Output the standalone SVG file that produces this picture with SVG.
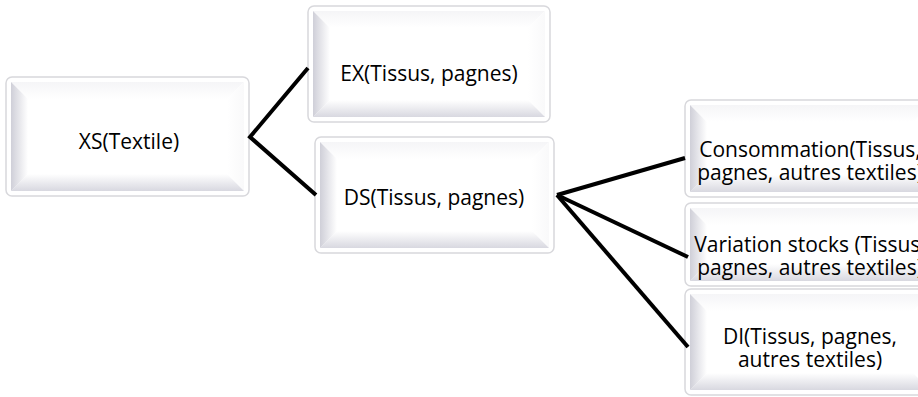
<svg xmlns="http://www.w3.org/2000/svg" width="918" height="397" viewBox="0 0 918 397">
  <defs>
    <linearGradient id="gLeft" x1="0" y1="0" x2="1" y2="0">
      <stop offset="0" stop-color="#cfcfd8"/>
      <stop offset="1" stop-color="#ffffff"/>
    </linearGradient>
    <linearGradient id="gBottom" x1="0" y1="1" x2="0" y2="0">
      <stop offset="0" stop-color="#d8d8e0"/>
      <stop offset="1" stop-color="#ffffff"/>
    </linearGradient>
    <linearGradient id="gTop" x1="0" y1="0" x2="0" y2="1">
      <stop offset="0" stop-color="#f5f5f7"/>
      <stop offset="1" stop-color="#ffffff"/>
    </linearGradient>
    <linearGradient id="gRight" x1="1" y1="0" x2="0" y2="0">
      <stop offset="0" stop-color="#f9f9fa"/>
      <stop offset="1" stop-color="#ffffff"/>
    </linearGradient>
  </defs>
  <style>
    .frame { fill: #ffffff; stroke: #d8d8dc; stroke-width: 1.5; }
    .face { fill: #ffffff; }
    .bl { fill: url(#gLeft); }
    .bb { fill: url(#gBottom); }
    .bt { fill: url(#gTop); }
    .br { fill: url(#gRight); }
    .label { font-family: "Open Sans", "Noto Sans", "Liberation Sans", sans-serif; font-size: 21px; fill: #000000; text-anchor: middle; }
    .link { fill: none; stroke: #000000; stroke-width: 4; stroke-linejoin: miter; stroke-linecap: butt; }
  </style>

  <rect width="918" height="397" fill="#ffffff"/>

  <!-- XS(Textile) -->
  <g id="node-xs">
    <rect class="frame" x="6" y="77" width="243" height="119" rx="6"/>
    <rect class="face" x="11" y="82" width="233" height="109"/>
    <path class="bt" d="M11,82 L244,82 L227,99 L28,99 Z"/>
    <path class="br" d="M244,82 L244,191 L227,174 L227,99 Z"/>
    <path class="bb" d="M11,191 L28,174 L227,174 L244,191 Z"/>
    <path class="bl" d="M11,82 L28,99 L28,174 L11,191 Z"/>
    <text class="label" x="129" y="149">XS(Textile)</text>
  </g>

  <!-- EX(Tissus, pagnes) -->
  <g id="node-ex">
    <rect class="frame" x="308" y="6" width="242" height="116" rx="6"/>
    <rect class="face" x="313" y="11" width="232" height="106"/>
    <path class="bt" d="M313,11 L545,11 L528,28 L330,28 Z"/>
    <path class="br" d="M545,11 L545,117 L528,100 L528,28 Z"/>
    <path class="bb" d="M313,117 L330,100 L528,100 L545,117 Z"/>
    <path class="bl" d="M313,11 L330,28 L330,100 L313,117 Z"/>
    <text class="label" x="429" y="81">EX(Tissus, pagnes)</text>
  </g>

  <!-- DS(Tissus, pagnes) -->
  <g id="node-ds">
    <rect class="frame" x="315" y="137" width="239" height="116" rx="6"/>
    <rect class="face" x="320" y="142" width="229" height="106"/>
    <path class="bt" d="M320,142 L549,142 L532,159 L337,159 Z"/>
    <path class="br" d="M549,142 L549,248 L532,231 L532,159 Z"/>
    <path class="bb" d="M320,248 L337,231 L532,231 L549,248 Z"/>
    <path class="bl" d="M320,142 L337,159 L337,231 L320,248 Z"/>
    <text class="label" x="434" y="205">DS(Tissus, pagnes)</text>
  </g>

  <!-- Consommation -->
  <g id="node-consommation">
    <rect class="frame" x="685" y="100" width="250" height="97" rx="6"/>
    <rect class="face" x="690" y="105" width="240" height="87"/>
    <path class="bt" d="M690,105 L930,105 L913,122 L707,122 Z"/>
    <path class="bb" d="M690,192 L707,175 L913,175 L930,192 Z"/>
    <path class="bl" d="M690,105 L707,122 L707,175 L690,192 Z"/>
    <text class="label" x="810" y="157">Consommation(Tissus,</text>
    <text class="label" x="810" y="180">pagnes, autres textiles)</text>
  </g>

  <!-- Variation stocks -->
  <g id="node-variation">
    <rect class="frame" x="685" y="203" width="250" height="83" rx="6"/>
    <rect class="face" x="690" y="208" width="240" height="73"/>
    <path class="bt" d="M690,208 L930,208 L913,225 L707,225 Z"/>
    <path class="bb" d="M690,281 L707,264 L913,264 L930,281 Z"/>
    <path class="bl" d="M690,208 L707,225 L707,264 L690,281 Z"/>
    <text class="label" x="810" y="252">Variation stocks (Tissus,</text>
    <text class="label" x="810" y="275">pagnes, autres textiles)</text>
  </g>

  <!-- DI(Tissus, pagnes, autres textiles) -->
  <g id="node-di">
    <rect class="frame" x="685" y="289" width="250" height="106" rx="6"/>
    <rect class="face" x="690" y="294" width="240" height="96"/>
    <path class="bt" d="M690,294 L930,294 L913,311 L707,311 Z"/>
    <path class="bb" d="M690,390 L707,373 L913,373 L930,390 Z"/>
    <path class="bl" d="M690,294 L707,311 L707,373 L690,390 Z"/>
    <text class="label" x="810" y="344">DI(Tissus, pagnes,</text>
    <text class="label" x="810" y="367">autres textiles)</text>
  </g>

  <!-- connectors -->
  <g id="connectors">
    <polyline class="link" points="308,68 250,137 316,195"/>
    <line class="link" x1="557" y1="195" x2="685" y2="158"/>
    <line class="link" x1="557" y1="195" x2="688" y2="257"/>
    <line class="link" x1="557" y1="195" x2="688" y2="347"/>
  </g>
</svg>
